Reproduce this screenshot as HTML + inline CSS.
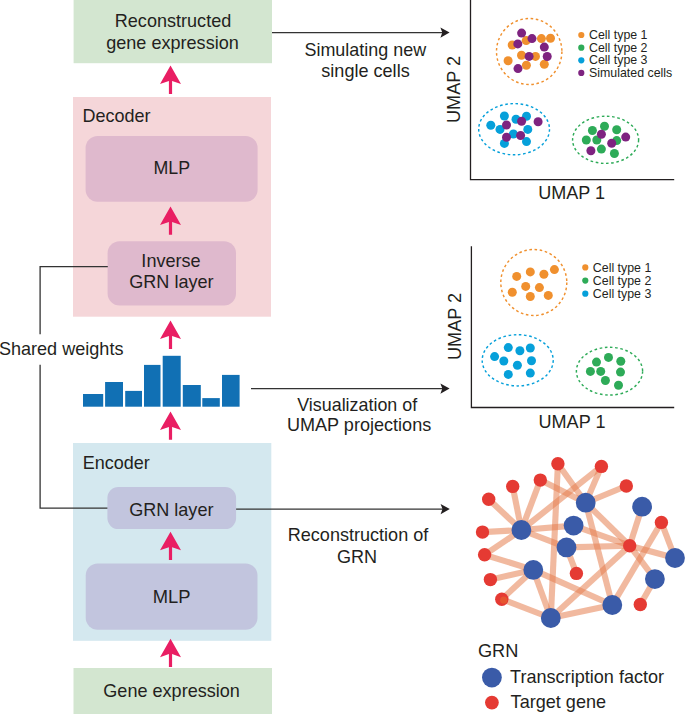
<!DOCTYPE html>
<html><head><meta charset="utf-8"><style>
html,body{margin:0;padding:0;background:#fff;}
body{width:685px;height:714px;overflow:hidden;font-family:"Liberation Sans",sans-serif;}
svg{display:block;}
</style></head><body>
<svg width="685" height="714" viewBox="0 0 685 714">
<rect width="685" height="714" fill="#fff"/>
<rect x="73.6" y="0" width="198.4" height="63.2" fill="#d3e6d0"/>
<rect x="73" y="97" width="198.0" height="219.7" fill="#f5d6d9"/>
<rect x="85.6" y="136.1" width="172" height="65.6" rx="12" fill="#dfb9cd"/>
<rect x="107.6" y="241.3" width="128.4" height="64.2" rx="12" fill="#dfb9cd"/>
<rect x="73" y="443" width="198.3" height="197.8" fill="#d4e8ef"/>
<rect x="107.4" y="487.1" width="128.7" height="42" rx="11" fill="#c2c5de"/>
<rect x="85.7" y="563.5" width="171.8" height="66.3" rx="12" fill="#c2c5de"/>
<rect x="73.5" y="668" width="198.5" height="46" fill="#d3e6d0"/>
<path d="M170.5,65.6 L181.0,84.1 L172.1,81.0 L172.1,93.89999999999999 L168.9,93.89999999999999 L168.9,81.0 L160.0,84.1 Z" fill="#e91e63"/>
<path d="M170.5,206.5 L181.0,225.0 L172.1,221.9 L172.1,234.8 L168.9,234.8 L168.9,221.9 L160.0,225.0 Z" fill="#e91e63"/>
<path d="M170.5,320.6 L181.0,339.1 L172.1,336.0 L172.1,348.90000000000003 L168.9,348.90000000000003 L168.9,336.0 L160.0,339.1 Z" fill="#e91e63"/>
<path d="M170.5,411.5 L181.0,430.0 L172.1,426.9 L172.1,439.8 L168.9,439.8 L168.9,426.9 L160.0,430.0 Z" fill="#e91e63"/>
<path d="M170.5,531.8 L181.0,550.3 L172.1,547.1999999999999 L172.1,560.0999999999999 L168.9,560.0999999999999 L168.9,547.1999999999999 L160.0,550.3 Z" fill="#e91e63"/>
<path d="M170.5,638.7 L181.0,657.2 L172.1,654.1 L172.1,667.0 L168.9,667.0 L168.9,654.1 L160.0,657.2 Z" fill="#e91e63"/>
<rect x="83.0" y="394.0" width="20.20" height="12.70" fill="#1170b4"/>
<rect x="105.1" y="382.0" width="17.90" height="24.70" fill="#1170b4"/>
<rect x="125.2" y="390.9" width="16.80" height="15.80" fill="#1170b4"/>
<rect x="144.0" y="364.9" width="16.50" height="41.80" fill="#1170b4"/>
<rect x="162.7" y="355.8" width="18.00" height="50.90" fill="#1170b4"/>
<rect x="182.8" y="385.0" width="18.00" height="21.70" fill="#1170b4"/>
<rect x="202.3" y="398.1" width="17.50" height="8.60" fill="#1170b4"/>
<rect x="222.0" y="374.9" width="17.60" height="31.80" fill="#1170b4"/>
<path d="M107.8,266.7 H40.1 V334.2 M40.1,364.8 V508.2 H107.4" fill="none" stroke="#333333" stroke-width="1.3"/>
<path d="M272,32.6 H443.6" stroke="#333333" stroke-width="1.35" fill="none"/><path d="M449.6,32.6 L440.40000000000003,27.5 L442.3,32.6 L440.40000000000003,37.7 Z" fill="#231f20"/>
<path d="M251,388.6 H443.6" stroke="#333333" stroke-width="1.35" fill="none"/><path d="M449.6,388.6 L440.40000000000003,383.5 L442.3,388.6 L440.40000000000003,393.70000000000005 Z" fill="#231f20"/>
<path d="M236.1,509.1 H443.8" stroke="#333333" stroke-width="1.35" fill="none"/><path d="M449.8,509.1 L440.6,504.0 L442.5,509.1 L440.6,514.2 Z" fill="#231f20"/>
<path d="M470.5,0 V179.6 H674.2" fill="none" stroke="#231f20" stroke-width="1.3"/>
<path d="M471.4,246.2 V407.5 H674.2" fill="none" stroke="#231f20" stroke-width="1.3"/>
<text transform="translate(173,27.4) scale(1.033,1)" font-size="17.5" text-anchor="middle" fill="#231f20" font-family="Liberation Sans, sans-serif" >Reconstructed</text>
<text transform="translate(172.5,48.699999999999996) scale(1.033,1)" font-size="17.5" text-anchor="middle" fill="#231f20" font-family="Liberation Sans, sans-serif" >gene expression</text>
<text transform="translate(82.5,122.0) scale(1.027,1)" font-size="17.5" text-anchor="start" fill="#231f20" font-family="Liberation Sans, sans-serif" >Decoder</text>
<text transform="translate(171.8,174.4) scale(1.018,1)" font-size="17.5" text-anchor="middle" fill="#231f20" font-family="Liberation Sans, sans-serif" >MLP</text>
<text transform="translate(171.0,267.09999999999997) scale(1.033,1)" font-size="17.5" text-anchor="middle" fill="#231f20" font-family="Liberation Sans, sans-serif" >Inverse</text>
<text transform="translate(171.4,288.09999999999997) scale(1.033,1)" font-size="17.5" text-anchor="middle" fill="#231f20" font-family="Liberation Sans, sans-serif" >GRN layer</text>
<text transform="translate(-1.1,355.4) scale(1.033,1)" font-size="17.5" text-anchor="start" fill="#231f20" font-family="Liberation Sans, sans-serif" >Shared weights</text>
<text transform="translate(82.7,469.29999999999995) scale(1.03,1)" font-size="17.5" text-anchor="start" fill="#231f20" font-family="Liberation Sans, sans-serif" >Encoder</text>
<text transform="translate(171.3,516.4) scale(1.033,1)" font-size="17.5" text-anchor="middle" fill="#231f20" font-family="Liberation Sans, sans-serif" >GRN layer</text>
<text transform="translate(171.6,602.6) scale(1.05,1)" font-size="17.5" text-anchor="middle" fill="#231f20" font-family="Liberation Sans, sans-serif" >MLP</text>
<text transform="translate(171.6,697.1999999999999) scale(1.033,1)" font-size="17.5" text-anchor="middle" fill="#231f20" font-family="Liberation Sans, sans-serif" >Gene expression</text>
<text transform="translate(365.3,55.9) scale(1.025,1)" font-size="17.5" text-anchor="middle" fill="#231f20" font-family="Liberation Sans, sans-serif" >Simulating new</text>
<text transform="translate(365.5,77.30000000000001) scale(1.033,1)" font-size="17.5" text-anchor="middle" fill="#231f20" font-family="Liberation Sans, sans-serif" >single cells</text>
<text transform="translate(357.2,410.7) scale(1.022,1)" font-size="17.5" text-anchor="middle" fill="#231f20" font-family="Liberation Sans, sans-serif" >Visualization of</text>
<text transform="translate(359.1,430.79999999999995) scale(1.033,1)" font-size="17.5" text-anchor="middle" fill="#231f20" font-family="Liberation Sans, sans-serif" >UMAP projections</text>
<text transform="translate(358,541.0) scale(1.033,1)" font-size="17.5" text-anchor="middle" fill="#231f20" font-family="Liberation Sans, sans-serif" >Reconstruction of</text>
<text transform="translate(357,562.9) scale(1.033,1)" font-size="17.5" text-anchor="middle" fill="#231f20" font-family="Liberation Sans, sans-serif" >GRN</text>
<text transform="translate(538.2,198.70000000000002) scale(1.033,1)" font-size="17.5" text-anchor="start" fill="#231f20" font-family="Liberation Sans, sans-serif" >UMAP 1</text>
<text transform="translate(538.5,428.29999999999995) scale(1.033,1)" font-size="17.5" text-anchor="start" fill="#231f20" font-family="Liberation Sans, sans-serif" >UMAP 1</text>
<text transform="translate(460.2,89.5) rotate(-90) scale(1.033,1)" x="0" y="0" font-size="17.5" text-anchor="middle" fill="#231f20" font-family="Liberation Sans, sans-serif">UMAP 2</text>
<text transform="translate(460.8,326.5) rotate(-90) scale(1.033,1)" x="0" y="0" font-size="17.5" text-anchor="middle" fill="#231f20" font-family="Liberation Sans, sans-serif">UMAP 2</text>
<text transform="translate(477.9,657.0) scale(1.04,1)" font-size="17.5" text-anchor="start" fill="#231f20" font-family="Liberation Sans, sans-serif" >GRN</text>
<text transform="translate(510.1,683.1) scale(1.033,1)" font-size="17.5" text-anchor="start" fill="#231f20" font-family="Liberation Sans, sans-serif" >Transcription factor</text>
<text transform="translate(510.6,708.1) scale(1.033,1)" font-size="17.5" text-anchor="start" fill="#231f20" font-family="Liberation Sans, sans-serif" >Target gene</text>
<circle cx="581.3" cy="35.00" r="3.1" fill="#f0902e"/>
<text transform="translate(589,39.1) scale(1.033,1)" font-size="12" text-anchor="start" fill="#231f20" font-family="Liberation Sans, sans-serif" >Cell type 1</text>
<circle cx="581.3" cy="47.65" r="3.1" fill="#2eab58"/>
<text transform="translate(589,51.75) scale(1.033,1)" font-size="12" text-anchor="start" fill="#231f20" font-family="Liberation Sans, sans-serif" >Cell type 2</text>
<circle cx="581.3" cy="60.30" r="3.1" fill="#06a0da"/>
<text transform="translate(589,64.4) scale(1.033,1)" font-size="12" text-anchor="start" fill="#231f20" font-family="Liberation Sans, sans-serif" >Cell type 3</text>
<circle cx="581.3" cy="72.95" r="3.1" fill="#7e2380"/>
<text transform="translate(589,77.05000000000001) scale(1.033,1)" font-size="12" text-anchor="start" fill="#231f20" font-family="Liberation Sans, sans-serif" >Simulated cells</text>
<circle cx="585.3" cy="267.40" r="3.1" fill="#f0902e"/>
<text transform="translate(592.8,271.7) scale(1.033,1)" font-size="12" text-anchor="start" fill="#231f20" font-family="Liberation Sans, sans-serif" >Cell type 1</text>
<circle cx="585.3" cy="280.55" r="3.1" fill="#2eab58"/>
<text transform="translate(592.8,284.8) scale(1.033,1)" font-size="12" text-anchor="start" fill="#231f20" font-family="Liberation Sans, sans-serif" >Cell type 2</text>
<circle cx="585.3" cy="293.70" r="3.1" fill="#06a0da"/>
<text transform="translate(592.8,297.9) scale(1.033,1)" font-size="12" text-anchor="start" fill="#231f20" font-family="Liberation Sans, sans-serif" >Cell type 3</text>
<ellipse cx="529.2" cy="51.5" rx="32.7" ry="33" fill="none" stroke="#f0902e" stroke-width="1.45" stroke-dasharray="2.6 2.6"/>
<circle cx="512.2" cy="45.0" r="4.5" fill="#f0902e"/><circle cx="526.2" cy="40.6" r="4.5" fill="#f0902e"/><circle cx="541.4" cy="38.6" r="4.5" fill="#f0902e"/><circle cx="550.5" cy="38.3" r="4.5" fill="#f0902e"/><circle cx="521.5" cy="55.3" r="4.5" fill="#f0902e"/><circle cx="535.5" cy="56.4" r="4.5" fill="#f0902e"/><circle cx="508.1" cy="60.8" r="4.5" fill="#f0902e"/><circle cx="526.4" cy="65.2" r="4.5" fill="#f0902e"/><circle cx="544.3" cy="64.3" r="4.5" fill="#f0902e"/>
<circle cx="521.6" cy="33.1" r="4.5" fill="#7e2380"/><circle cx="532.0" cy="38.6" r="4.5" fill="#7e2380"/><circle cx="517.8" cy="43.9" r="4.5" fill="#7e2380"/><circle cx="544.3" cy="47.1" r="4.5" fill="#7e2380"/><circle cx="529.1" cy="56.4" r="4.5" fill="#7e2380"/><circle cx="547.2" cy="56.5" r="4.5" fill="#7e2380"/><circle cx="518.0" cy="68.6" r="4.5" fill="#7e2380"/>
<ellipse cx="514.1" cy="129.2" rx="35.4" ry="25.6" fill="none" stroke="#06a0da" stroke-width="1.45" stroke-dasharray="2.6 2.6"/>
<circle cx="504.4" cy="116.0" r="4.5" fill="#06a0da"/><circle cx="516.0" cy="119.3" r="4.5" fill="#06a0da"/><circle cx="526.5" cy="116.3" r="4.5" fill="#06a0da"/><circle cx="490.8" cy="125.2" r="4.5" fill="#06a0da"/><circle cx="500.0" cy="129.4" r="4.5" fill="#06a0da"/><circle cx="527.8" cy="129.4" r="4.5" fill="#06a0da"/><circle cx="513.4" cy="134.0" r="4.5" fill="#06a0da"/><circle cx="504.4" cy="143.4" r="4.5" fill="#06a0da"/><circle cx="526.5" cy="141.6" r="4.5" fill="#06a0da"/>
<circle cx="506.5" cy="125.0" r="4.5" fill="#7e2380"/><circle cx="521.6" cy="121.3" r="4.5" fill="#7e2380"/><circle cx="538.1" cy="121.7" r="4.5" fill="#7e2380"/><circle cx="506.5" cy="137.3" r="4.5" fill="#7e2380"/><circle cx="520.6" cy="135.5" r="4.5" fill="#7e2380"/>
<ellipse cx="605.6" cy="139.8" rx="33" ry="23.6" fill="none" stroke="#2eab58" stroke-width="1.45" stroke-dasharray="2.6 2.6"/>
<circle cx="604.5" cy="126.3" r="4.5" fill="#2eab58"/><circle cx="592.4" cy="130.5" r="4.5" fill="#2eab58"/><circle cx="616.7" cy="129.8" r="4.5" fill="#2eab58"/><circle cx="586.3" cy="140.0" r="4.5" fill="#2eab58"/><circle cx="596.8" cy="140.0" r="4.5" fill="#2eab58"/><circle cx="616.7" cy="140.6" r="4.5" fill="#2eab58"/><circle cx="601.4" cy="149.1" r="4.5" fill="#2eab58"/><circle cx="614.4" cy="153.5" r="4.5" fill="#2eab58"/>
<circle cx="601.4" cy="134.2" r="4.5" fill="#7e2380"/><circle cx="625.7" cy="137.1" r="4.5" fill="#7e2380"/><circle cx="611.7" cy="143.2" r="4.5" fill="#7e2380"/><circle cx="590.9" cy="150.8" r="4.5" fill="#7e2380"/>
<ellipse cx="533.8" cy="282.5" rx="33" ry="33" fill="none" stroke="#f0902e" stroke-width="1.45" stroke-dasharray="2.6 2.6"/>
<circle cx="516.7" cy="276.4" r="4.5" fill="#f0902e"/><circle cx="530.3" cy="271.9" r="4.5" fill="#f0902e"/><circle cx="543.9" cy="274.2" r="4.5" fill="#f0902e"/><circle cx="554.4" cy="269.6" r="4.5" fill="#f0902e"/><circle cx="525.7" cy="286.4" r="4.5" fill="#f0902e"/><circle cx="539.4" cy="287.6" r="4.5" fill="#f0902e"/><circle cx="512.3" cy="292.2" r="4.5" fill="#f0902e"/><circle cx="530.3" cy="296.5" r="4.5" fill="#f0902e"/><circle cx="548.3" cy="295.4" r="4.5" fill="#f0902e"/>
<ellipse cx="517.7" cy="360.3" rx="35.5" ry="25.6" fill="none" stroke="#06a0da" stroke-width="1.45" stroke-dasharray="2.6 2.6"/>
<circle cx="508.3" cy="347.6" r="4.5" fill="#06a0da"/><circle cx="519.9" cy="350.8" r="4.5" fill="#06a0da"/><circle cx="530.3" cy="348.0" r="4.5" fill="#06a0da"/><circle cx="494.6" cy="356.6" r="4.5" fill="#06a0da"/><circle cx="503.8" cy="361.0" r="4.5" fill="#06a0da"/><circle cx="531.5" cy="360.7" r="4.5" fill="#06a0da"/><circle cx="517.4" cy="365.3" r="4.5" fill="#06a0da"/><circle cx="508.3" cy="374.4" r="4.5" fill="#06a0da"/><circle cx="530.3" cy="373.1" r="4.5" fill="#06a0da"/>
<ellipse cx="609.5" cy="371.2" rx="33.1" ry="23.9" fill="none" stroke="#2eab58" stroke-width="1.45" stroke-dasharray="2.6 2.6"/>
<circle cx="608.5" cy="357.4" r="4.5" fill="#2eab58"/><circle cx="596.5" cy="362.1" r="4.5" fill="#2eab58"/><circle cx="620.8" cy="361.3" r="4.5" fill="#2eab58"/><circle cx="590.4" cy="371.4" r="4.5" fill="#2eab58"/><circle cx="600.7" cy="371.4" r="4.5" fill="#2eab58"/><circle cx="620.5" cy="372.1" r="4.5" fill="#2eab58"/><circle cx="605.4" cy="380.5" r="4.5" fill="#2eab58"/><circle cx="618.5" cy="385.2" r="4.5" fill="#2eab58"/>
<g stroke="#e67f50" stroke-width="6.1" stroke-opacity="0.55" stroke-linecap="butt">
<line x1="521.4" y1="530.0" x2="488.7" y2="499.3"/>
<line x1="521.4" y1="530.0" x2="512.7" y2="486.4"/>
<line x1="521.4" y1="530.0" x2="540.3" y2="480.1"/>
<line x1="521.4" y1="530.0" x2="601.4" y2="466.4"/>
<line x1="521.4" y1="530.0" x2="482.5" y2="532.1"/>
<line x1="521.4" y1="530.0" x2="484.6" y2="554.8"/>
<line x1="521.4" y1="530.0" x2="573.6" y2="525.6"/>
<line x1="521.4" y1="530.0" x2="566.5" y2="547.4"/>
<line x1="540.3" y1="480.1" x2="585.7" y2="502.7"/>
<line x1="557.9" y1="463.8" x2="585.7" y2="502.7"/>
<line x1="557.9" y1="463.8" x2="550.8" y2="618.0"/>
<line x1="601.4" y1="466.4" x2="585.7" y2="502.7"/>
<line x1="626.3" y1="486.0" x2="585.7" y2="502.7"/>
<line x1="585.7" y1="502.7" x2="629.7" y2="545.7"/>
<line x1="585.7" y1="502.7" x2="612.3" y2="605.0"/>
<line x1="642.1" y1="506.7" x2="629.7" y2="545.7"/>
<line x1="573.6" y1="525.6" x2="629.7" y2="545.7"/>
<line x1="566.5" y1="547.4" x2="629.7" y2="545.7"/>
<line x1="629.7" y1="545.7" x2="675.0" y2="558.0"/>
<line x1="629.7" y1="545.7" x2="654.9" y2="579.1"/>
<line x1="629.7" y1="545.7" x2="550.8" y2="618.0"/>
<line x1="533.3" y1="569.9" x2="612.3" y2="605.0"/>
<line x1="612.3" y1="605.0" x2="661.4" y2="522.4"/>
<line x1="550.8" y1="618.0" x2="612.3" y2="605.0"/>
<line x1="661.4" y1="522.4" x2="675.0" y2="558.0"/>
<line x1="576.4" y1="573.4" x2="566.5" y2="547.4"/>
<line x1="640.3" y1="604.5" x2="654.9" y2="579.1"/>
<line x1="484.6" y1="554.8" x2="533.3" y2="569.9"/>
<line x1="533.3" y1="569.9" x2="490.4" y2="579.6"/>
<line x1="533.3" y1="569.9" x2="501.8" y2="599.2"/>
<line x1="533.3" y1="569.9" x2="550.8" y2="618.0"/>
<line x1="501.8" y1="599.2" x2="550.8" y2="618.0"/>
</g>
<circle cx="557.9" cy="463.8" r="6.7" fill="#e53a33"/>
<circle cx="540.3" cy="480.1" r="6.7" fill="#e53a33"/>
<circle cx="512.7" cy="486.4" r="6.7" fill="#e53a33"/>
<circle cx="488.7" cy="499.3" r="6.7" fill="#e53a33"/>
<circle cx="482.5" cy="532.1" r="6.7" fill="#e53a33"/>
<circle cx="484.6" cy="554.8" r="6.7" fill="#e53a33"/>
<circle cx="601.4" cy="466.4" r="6.7" fill="#e53a33"/>
<circle cx="626.3" cy="486.0" r="6.7" fill="#e53a33"/>
<circle cx="661.4" cy="522.4" r="6.7" fill="#e53a33"/>
<circle cx="629.7" cy="545.7" r="6.7" fill="#e53a33"/>
<circle cx="490.4" cy="579.6" r="6.7" fill="#e53a33"/>
<circle cx="501.8" cy="599.2" r="6.7" fill="#e53a33"/>
<circle cx="576.4" cy="573.4" r="6.7" fill="#e53a33"/>
<circle cx="640.3" cy="604.5" r="6.7" fill="#e53a33"/>
<circle cx="521.4" cy="530.0" r="9.9" fill="#3a5ba8"/>
<circle cx="573.6" cy="525.6" r="9.9" fill="#3a5ba8"/>
<circle cx="566.5" cy="547.4" r="9.9" fill="#3a5ba8"/>
<circle cx="585.7" cy="502.7" r="9.9" fill="#3a5ba8"/>
<circle cx="642.1" cy="506.7" r="9.9" fill="#3a5ba8"/>
<circle cx="675.0" cy="558.0" r="9.9" fill="#3a5ba8"/>
<circle cx="533.3" cy="569.9" r="9.9" fill="#3a5ba8"/>
<circle cx="550.8" cy="618.0" r="9.9" fill="#3a5ba8"/>
<circle cx="654.9" cy="579.1" r="9.9" fill="#3a5ba8"/>
<circle cx="612.3" cy="605.0" r="9.9" fill="#3a5ba8"/>
<circle cx="503.7" cy="600.2" r="3.6" fill="#e6552f"/>
<circle cx="491.9" cy="677.6" r="9.9" fill="#3a5ba8"/>
<circle cx="491.9" cy="702.6" r="6.9" fill="#e53a33"/>
</svg>
</body></html>
